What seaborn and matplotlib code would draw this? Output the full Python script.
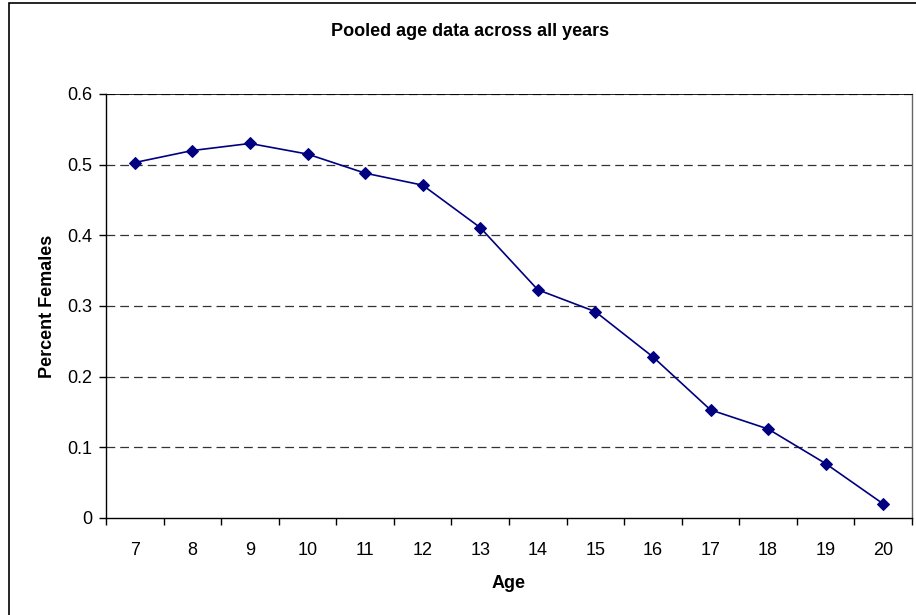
import numpy as np
import pandas as pd
import seaborn as sns
import matplotlib.pyplot as plt
from matplotlib.patches import Rectangle

# Dados
ages = [7, 8, 9, 10, 11, 12, 13, 14, 15, 16, 17, 18, 19, 20]
pct_females = [0.503, 0.520, 0.530, 0.515, 0.488, 0.471, 0.411,
               0.323, 0.292, 0.228, 0.153, 0.126, 0.077, 0.020]
y_ticks = [0, 0.1, 0.2, 0.3, 0.4, 0.5, 0.6]
y_tick_labels = ["0", "0.1", "0.2", "0.3", "0.4", "0.5", "0.6"]


def main():
    df = pd.DataFrame({"Age": ages, "Percent Females": pct_females})

    sns.set_style("white")
    plt.rcParams["font.family"] = ["Liberation Sans", "DejaVu Sans"]
    plt.rcParams["text.color"] = "black"
    plt.rcParams["axes.labelcolor"] = "black"
    plt.rcParams["xtick.color"] = "black"
    plt.rcParams["ytick.color"] = "black"

    fig = plt.figure(figsize=(9.16, 6.15), dpi=100)
    ax = fig.add_axes([106 / 916, (615 - 518) / 615, (912 - 106) / 916, (518 - 94) / 615])

    # borda externa do gráfico (estilo Excel)
    fig.patches.append(Rectangle((9 / 916, -0.05), 1.2, (615 - 3) / 615 + 0.05,
                                 transform=fig.transFigure, fill=False,
                                 edgecolor="black", linewidth=1.2, zorder=0))

    sns.lineplot(data=df, x="Age", y="Percent Females", ax=ax,
                 color="#000080", linewidth=1.2, marker="D", markersize=6.5,
                 markeredgecolor="#000080", markerfacecolor="#000080")

    ax.set_xlim(ages[0] - 0.5, ages[-1] + 0.5)
    ax.set_ylim(0, 0.6)
    ax.set_yticks(y_ticks)
    ax.set_yticklabels(y_tick_labels)
    ax.set_xticks(ages)
    ax.set_xticks(np.arange(ages[0] - 0.5, ages[-1] + 1), minor=True)

    ax.tick_params(axis="x", which="major", bottom=True, length=0, pad=17, labelsize=13,
                   labelcolor="black")
    ax.tick_params(axis="x", which="minor", bottom=True, length=5, width=1,
                   color="black", direction="out")
    ax.tick_params(axis="y", which="major", left=True, length=5, width=1, color="black",
                   direction="out", pad=5, labelsize=13, labelcolor="black")

    for y in y_ticks[1:]:
        ax.axhline(y, color="#333333", linewidth=0.9, linestyle=(0, (7, 4)), zorder=1)

    for side in ["left", "bottom", "right", "top"]:
        ax.spines[side].set_visible(True)
        ax.spines[side].set_color("black")
        ax.spines[side].set_linewidth(1.0)
    ax.spines["right"].set_color("#666666")
    ax.spines["top"].set_linewidth(0.6)

    ax.set_xlabel("Age", fontsize=13, fontweight="bold", labelpad=12, color="black")
    ax.set_ylabel("Percent Females", fontsize=13, fontweight="bold", labelpad=8, color="black")
    fig.text(470 / 916, 1 - 31 / 615, "Pooled age data across all years",
             ha="center", va="center", fontsize=13, fontweight="bold", color="black")

    fig.savefig("out.png", dpi=100)


main()
